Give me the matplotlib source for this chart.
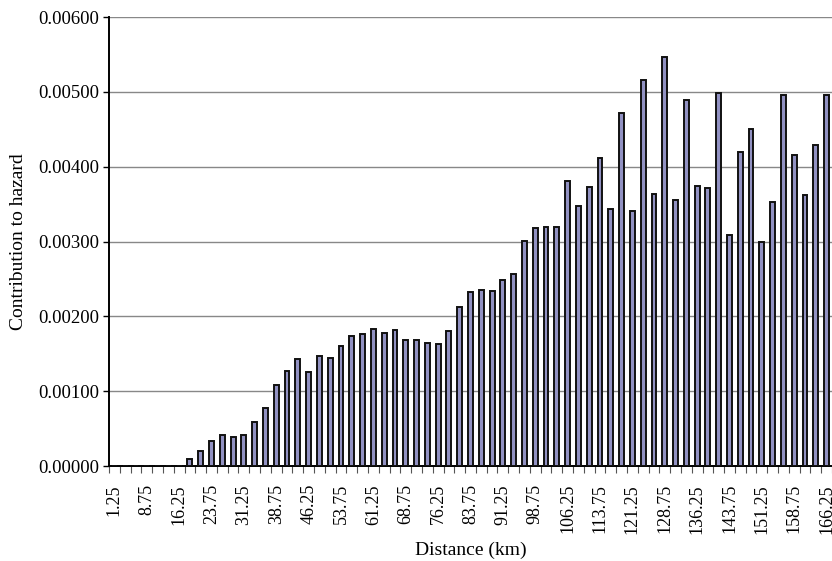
import numpy as np
import matplotlib.pyplot as plt

# Distance bins (km), bin centres every 2.5 km
distance = [1.25 + 2.5 * i for i in range(67)]

# Contribution to hazard per distance bin
contribution = [
    0.0, 0.0, 0.0, 0.0, 0.0, 0.0, 0.0,
    0.00009, 0.00020, 0.00033, 0.00041, 0.00039, 0.00042, 0.00059,
    0.00078, 0.00108, 0.00127, 0.00143, 0.00125, 0.00147, 0.00145,
    0.00161, 0.00174, 0.00176, 0.00183, 0.00178, 0.00182, 0.00168,
    0.00168, 0.00165, 0.00163, 0.00181, 0.00213, 0.00233, 0.00235,
    0.00234, 0.00249, 0.00257, 0.00301, 0.00318, 0.00319, 0.00320,
    0.00381, 0.00348, 0.00373, 0.00411, 0.00344, 0.00472, 0.00341,
    0.00516, 0.00363, 0.00546, 0.00356, 0.00489, 0.00374, 0.00371,
    0.00498, 0.00309, 0.00420, 0.00451, 0.00300, 0.00353, 0.00496,
    0.00416, 0.00362, 0.00429, 0.00496,
]

yticks = [0.0, 0.001, 0.002, 0.003, 0.004, 0.005, 0.006]

plt.rcParams['font.family'] = ['Liberation Serif', 'DejaVu Serif']

fig = plt.figure(figsize=(8.32, 5.61), dpi=100)
ax = fig.add_axes([0.131, 0.1693, 0.869, 0.8003])

x = np.arange(len(distance))
ax.bar(x, contribution, width=0.45, color='#9191c2', edgecolor='#111111',
       linewidth=1.4, zorder=3)

ax.set_xlim(-0.5, len(distance) - 0.5)
ax.set_ylim(0, 0.006)

# horizontal gridlines
ax.set_yticks(yticks)
ax.set_yticklabels(['%.5f' % v for v in yticks], fontsize=13.5)
ax.yaxis.grid(True, color='#888888', linewidth=1.0, zorder=0)
ax.tick_params(axis='y', direction='out', length=4, width=1, pad=3)

# labels every third bin, ticks between every bin
ax.set_xticks(x[::3])
ax.set_xticklabels(['%.2f' % d for d in distance[::3]], rotation=90, fontsize=13)
ax.tick_params(axis='x', which='major', length=0, pad=13)
ax.set_xticks(np.arange(len(distance) + 1) - 0.5, minor=True)
ax.tick_params(axis='x', which='minor', direction='out', length=5, width=0.8,
               color='#555555')

for side in ['top', 'right']:
    ax.spines[side].set_visible(False)
ax.spines['left'].set_linewidth(1.4)
ax.spines['bottom'].set_linewidth(1.4)

ax.set_xlabel('Distance (km)', fontsize=14, labelpad=6)
ax.set_ylabel('Contribution to hazard', fontsize=14, labelpad=8)

fig.savefig('out.png', dpi=100)
